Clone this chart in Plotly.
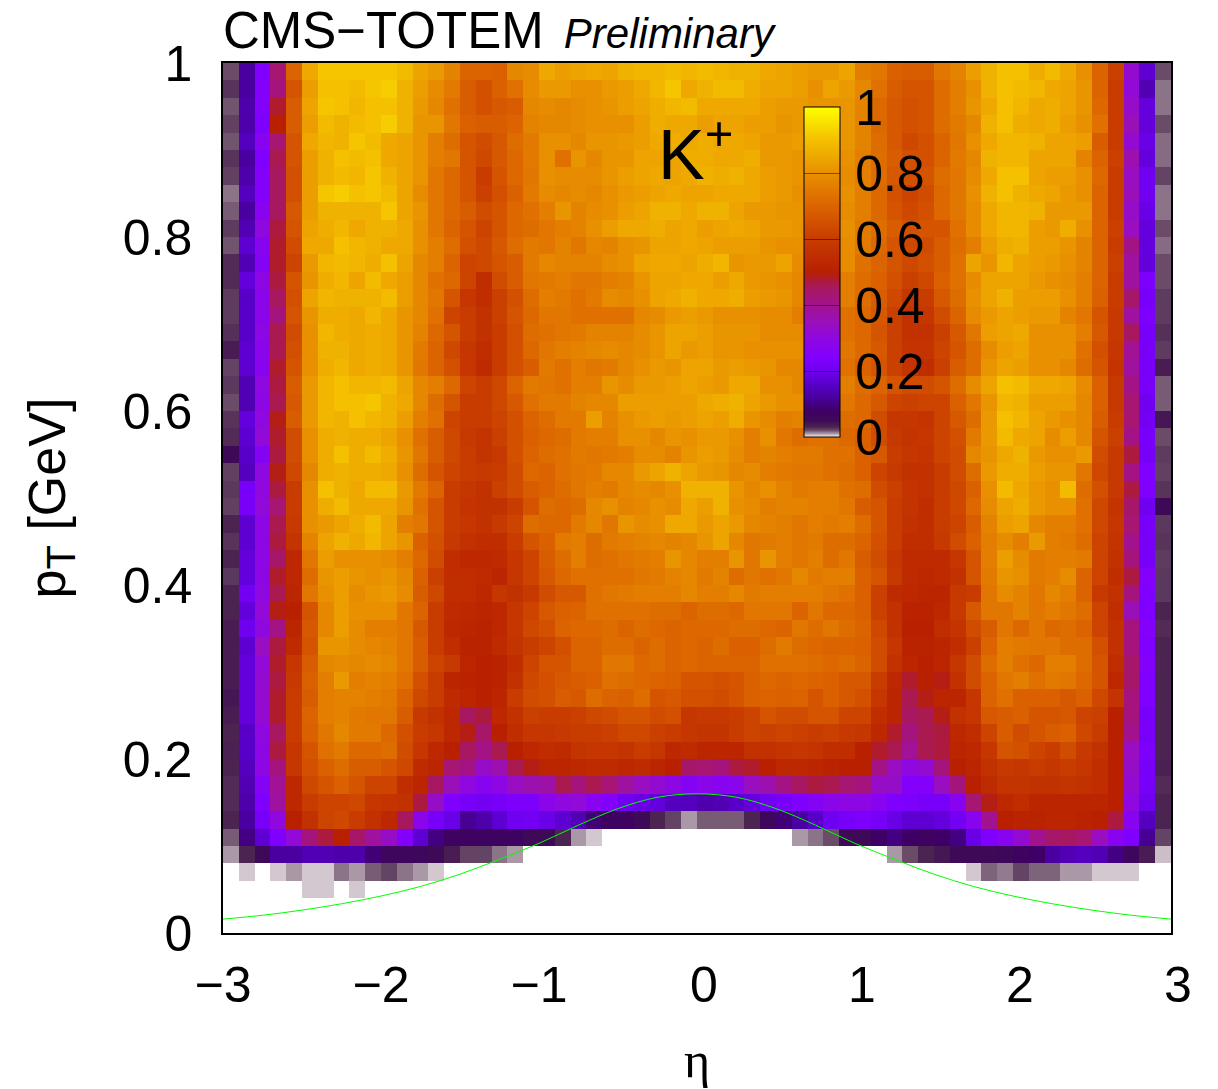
import plotly.graph_objects as go

eta_edges_start = -3.0
eta_bin_width = 0.1
pt_bin_width = 0.02
x_ticks = [-3, -2, -1, 0, 1, 2, 3]
x_tick_labels = ["−3", "−2", "−1", "\u00a00", "\u00a01", "\u00a02", "\u00a03"]
y_ticks = [0, 0.2, 0.4, 0.6, 0.8, 1]
y_tick_labels = ["0", "0.2", "0.4", "0.6", "0.8", "1"]
bar_tick_labels = ["\u200a0", "\u200a0.2", "\u200a0.4", "\u200a0.6", "\u200a0.8", "\u200a1"]

# acceptance in percent, one list per pT bin (bottom to top), 60 eta bins each
row_00 = [0]*60
row_01 = [0]*60
row_02 = [0]*5+[.5,.5,0,.5]+[0]*51
row_03 = [0,.5,0,.5,1,.5,.5,1.5,1,1.8,2.2,1.5,1,.5]+[0]*33+[.5,1.7,1.4,2.2,1.7,1.7,1,1,.5,.5,.5,0,0]
row_04 = [1,3,5,12,12,14,14,13,13,9,6,6,6,5,3.5,2.2,2.2,1.5,1]+[0]*23+[1,2,3,4,5,5,5,5.5,7,8,12,14,15,14,10,6,3.5,.6]
row_05 = [1.8,10,17,24,31,42,47,50,44,38,33,25,17,10,7,7,7,7,7,5,5,3,1,.5]+[0]*12+[1,1.5,2,5,5,8,10,8,7,8,10,19,24,27,32,40,44,45,43,34,27,24,11,2.2]
row_06 = [3,12,22,30,50,56,62,63,60,56,53,45,28,22,19,11,13,17,20,21,19,17,14,9,7,7,5,3,2.2,1,1.8,1.8,1.8,3,6,9,12,16,20,22,23,22,19,17,17,18,21,27,40,50,51,51,52,52,51,50,47,27,15,3]
row_07 = [2.8,13,24,38,53,60,62,62,63,58,57,56,47,33,24,22,21,22,23,23,28,30,31,27,25,20,19,18,15,15,13,14,16,18,20,22,24,26,28,29,29,27,24,23,22,22,27,43,49,53,55,52,52,52,52,52,50,30,20,3]
row_08 = [2.8,14,26,39,53,63,66,69,66,62,62,55,52,45,35,30,27,29,34,36,37,46,42,46,43,38,34,32,29,26,28,27,28,34,36,41,45,47,46,43,42,33,33,25,25,34,42,50,54,57,57,56,56,57,56,55,50,32,22,2.8]
row_09 = [3,15,29,42,58,65,69,72,68,68,66,63,54,52,43,41,33,36,46,49,52,52,53,54,54,53,54,52,50,44,43,42,47,48,50,53,53,52,51,50,50,41,34,30,32,42,50,52,56,59,58,60,58,60,58,55,50,33,22,3.2]
row_10 = [3.2,16,29,47,58,66,73,75,71,71,72,64,58,53,50,45,41,46,50,53,55,54,57,58,58,57,60,58,53,54,52,52,52,56,56,57,58,57,55,55,50,48,46,39,46,47,52,53,58,66,65,62,60,64,59,56,50,34,23,3]
row_11 = [3,16,30,45,60,69,74,78,75,75,71,65,60,58,53,49,44,50,55,58,58,59,60,60,61,63,63,61,60,58,57,57,60,62,61,62,61,60,61,59,58,53,48,42,46,47,53,55,62,68,64,66,68,69,63,60,50,40,22,3]
row_12 = [3.5,18,32,48,60,70,76,77,75,74,74,68,59,56,53,45,47,53,56,61,60,60,61,63,64,66,66,64,65,58,59,59,60,62,66,64,64,66,66,62,62,55,52,45,46,49,56,58,67,68,69,66,66,67,62,61,50,42,22,3]
row_13 = [4,18,32,48,60,68,76,77,77,76,75,70,63,60,54,52,50,52,60,64,65,68,67,72,70,69,72,66,67,65,65,64,66,69,70,69,70,66,69,67,65,58,52,46,49,52,52,58,70,73,69,69,69,67,69,63,57,42,24,3]
row_14 = [3.5,18,32,47,59,69,76,82,76,77,76,73,65,60,52,51,50,51,56,63,65,67,68,69,73,72,71,70,69,66,66,65,66,69,71,70,71,70,69,67,67,60,53,48,50,49,56,64,70,74,76,73,75,74,71,66,53,44,24,3]
row_15 = [3.5,18,31,48,58,68,78,79,78,79,78,74,68,62,59,52,50,51,55,62,66,66,70,70,74,74,71,72,70,71,70,70,70,70,73,73,73,72,71,72,70,64,56,52,50,52,58,64,72,76,73,71,76,76,72,66,55,44,25,3]
row_16 = [3.5,17,34,47,54,66,81,81,79,78,77,74,68,60,55,51,51,54,57,60,62,65,70,70,72,72,70,72,70,71,70,72,69,69,72,75,72,71,70,70,69,64,58,51,51,52,55,61,70,76,75,74,74,72,72,65,56,42,24,3]
row_17 = [3.5,20,30,41,52,67,78,83,79,76,76,74,67,60,53,52,51,53,58,63,65,70,71,71,72,70,72,71,70,71,71,71,72,72,71,70,74,72,74,72,70,63,56,50,50,55,57,64,68,74,71,74,71,72,70,62,56,42,25,2.8]
row_18 = [3,18,31,49,50,66,78,83,80,80,80,74,70,60,54,53,52,53,58,62,67,69,70,73,73,73,73,72,72,70,72,72,71,74,74,74,70,74,71,71,69,61,56,51,51,53,59,67,74,74,77,74,76,74,72,62,55,35,24,3]
row_19 = [3,21,30,46,52,74,80,83,79,81,82,79,68,63,55,55,53,58,56,59,64,67,67,73,74,75,76,76,76,78,76,76,78,75,76,76,76,76,74,73,69,61,54,53,52,52,59,60,74,79,77,74,78,76,70,59,56,42,24,2.5]
row_20 = [2.5,18,29,48,53,72,81,83,81,80,81,78,69,61,55,55,54,52,58,62,67,71,73,73,73,73,74,75,77,78,75,77,72,74,73,74,78,75,76,76,69,66,59,54,53,54,56,66,75,81,80,75,76,79,70,62,55,47,25,2.5]
row_21 = [3,18,29,44,53,74,83,80,80,80,79,76,71,64,55,53,53,54,58,62,68,72,76,72,73,74,75,76,81,78,76,76,81,74,81,76,74,76,72,74,68,64,58,54,54,54,58,66,76,83,79,75,76,76,75,62,56,42,22,2.4]
row_22 = [2.6,17,29,47,57,77,84,87,85,88,84,81,69,65,59,56,55,55,60,66,69,75,76,72,75,76,77,78,77,78,81,84,78,74,75,76,74,75,72,72,70,65,60,55,55,59,64,69,76,79,76,82,76,75,72,62,57,40,22,2.6]
row_23 = [3,17,29,46,59,80,82,84,86,89,84,76,74,66,60,58,56,59,62,72,71,71,75,78,74,81,79,80,85,85,82,84,82,78,77,76,74,76,75,76,72,66,60,56,55,60,62,68,77,83,84,78,76,76,73,63,58,43,22,2.5]
row_24 = [2.3,22,31,43,60,80,86,89,85,85,85,81,73,66,60,57,56,56,60,66,72,71,72,78,80,77,78,80,79,85,83,87,80,79,76,77,77,76,76,74,68,66,60,57,55,60,63,71,79,84,86,82,80,80,73,63,57,44,20,5]
row_25 = [2.5,22,30,47,60,80,90,87,85,89,89,82,75,70,60,58,56,61,64,68,70,72,74,76,75,78,79,78,80,87,87,87,81,78,80,77,75,76,76,73,72,64,61,57,56,60,63,69,80,89,85,82,80,89,72,65,59,47,24,2.6]
row_26 = [2.3,15,30,49,63,78,86,87,86,86,85,80,72,66,62,60,59,60,64,71,70,73,74,75,78,78,82,84,87,84,82,81,78,79,76,75,74,74,73,72,69,62,59,56,56,60,64,72,82,86,86,83,81,81,74,63,59,41,24,2.3]
row_27 = [5,16,26,47,64,80,86,90,86,89,86,81,74,68,63,60,57,59,65,70,72,73,75,74,75,76,79,79,77,81,83,82,79,76,77,76,75,75,73,73,69,67,60,58,57,62,64,78,81,85,87,82,80,80,82,64,59,47,22,2.4]
row_28 = [2.8,17,31,48,64,80,86,87,86,86,84,80,73,68,63,59,57,61,65,69,71,72,75,76,76,80,80,78,81,80,82,82,80,76,80,74,72,73,73,71,69,64,59,57,58,62,65,75,82,89,85,84,79,83,78,66,61,41,22,2]
row_29 = [2.6,18,30,49,68,82,88,87,90,88,87,83,76,73,62,60,60,62,65,70,72,75,75,83,77,80,82,83,82,83,84,83,86,81,79,76,77,74,75,72,71,64,58,58,57,62,67,72,82,90,88,84,82,80,78,68,60,43,21,4]
row_30 = [2,14,29,46,67,82,88,90,90,91,87,85,78,72,66,60,60,63,67,73,75,75,77,78,78,83,83,83,83,83,85,86,87,84,82,80,80,79,75,74,71,67,62,61,62,62,69,74,81,88,87,83,83,83,78,69,59,43,20,1.8]
row_31 = [2.5,14,30,47,68,82,88,90,88,88,89,84,78,76,71,62,60,63,70,75,74,73,76,76,81,79,82,82,83,84,83,82,85,85,80,80,78,76,76,76,72,70,66,64,64,66,72,79,84,90,89,85,85,84,79,69,59,41,22,1.8]
row_32 = [2.2,17,27,48,66,80,86,88,85,86,85,81,74,70,65,58,54,60,65,68,75,73,76,74,75,78,80,82,81,84,84,82,83,82,81,78,78,77,75,73,69,66,61,57,55,61,68,72,81,84,83,80,80,78,72,66,57,38,22,3.5]
row_33 = [3.5,17,28,46,65,80,87,87,85,86,85,81,75,70,63,58,55,60,65,71,74,76,77,78,79,78,79,81,84,82,83,81,81,80,80,80,80,77,76,74,71,67,61,57,57,62,66,72,79,83,84,80,80,80,73,65,58,39,22,2.4]
row_34 = [2.7,16,29,46,64,80,88,86,85,86,85,81,77,71,66,60,56,60,65,72,73,74,75,77,77,77,79,81,84,84,83,81,81,81,79,79,79,77,76,73,71,66,61,56,56,61,67,74,83,84,85,80,80,80,76,67,59,45,22,2.7]
row_35 = [2.4,16,28,42,66,81,86,86,85,88,85,81,78,73,62,60,56,61,66,71,74,74,73,73,73,73,78,79,82,83,82,80,80,80,79,79,76,76,78,73,71,67,61,56,58,64,70,79,82,84,83,82,82,77,74,66,59,38,23,2.4]
row_36 = [2.4,16,28,45,65,84,88,87,87,87,89,83,78,74,66,58,55,61,65,72,76,75,73,75,79,78,80,84,85,87,85,85,86,83,82,81,78,78,78,76,72,68,63,58,60,67,72,80,84,87,83,83,83,80,76,69,60,44,22,2.4]
row_37 = [2.8,18,29,47,66,81,86,88,84,89,85,83,78,73,71,62,55,64,68,74,75,76,74,74,76,77,81,84,84,85,85,83,85,82,81,80,78,77,79,76,72,69,65,61,63,69,73,79,84,84,84,82,80,79,76,70,60,38,23,2]
row_38 = [2.8,14,26,48,62,82,88,89,88,86,90,84,78,76,70,62,63,66,68,75,78,77,77,77,79,80,84,85,85,84,86,88,81,82,82,84,79,78,80,79,73,70,66,63,65,68,73,84,81,88,84,83,82,80,77,70,61,38,18,2]
row_39 = [1.9,17,27,48,64,85,85,90,88,87,85,85,80,76,72,65,63,67,72,75,74,77,74,78,77,80,81,84,84,85,84,83,83,83,81,80,80,79,79,79,75,71,66,63,64,68,72,76,83,86,87,83,83,81,77,70,60,41,18,1.6]
row_40 = [2.4,14,30,47,66,84,86,88,85,87,87,85,80,74,70,66,62,66,71,72,74,76,77,80,83,85,85,86,84,85,83,84,85,84,82,82,81,80,81,80,75,72,68,65,66,66,73,79,85,88,88,83,82,86,80,70,61,34,18,2]
row_41 = [1.8,12,27,45,67,83,87,87,87,87,91,84,81,74,71,68,64,66,71,73,76,81,77,79,80,83,84,87,87,85,87,87,84,82,82,81,81,79,81,79,76,71,66,63,65,71,74,79,85,88,88,87,82,82,82,70,60,33,19,1.5]
row_42 = [1.5,15,25,45,65,83,91,92,90,91,89,84,79,74,71,66,61,65,69,75,79,78,79,78,80,82,83,84,85,84,84,85,85,85,83,82,80,80,80,80,76,71,65,62,64,71,74,80,87,90,87,85,84,82,80,70,60,35,20,1.5]
row_43 = [2.3,13,25,45,65,83,87,89,88,91,87,84,81,74,71,66,60,66,71,74,80,79,79,79,81,83,84,85,84,85,87,86,87,85,83,82,81,81,81,79,76,72,67,65,66,72,74,79,85,90,90,84,83,83,80,71,60,34,20,2.2]
row_44 = [2.6,12,24,46,66,83,87,90,89,90,85,84,81,76,74,66,63,67,71,75,80,73,81,78,81,81,84,84,84,86,86,85,85,86,82,82,81,80,81,80,76,72,68,65,65,70,75,78,87,88,88,84,84,84,77,70,61,36,18,1.6]
row_45 = [1.9,15,27,43,66,85,88,87,91,89,85,84,81,76,72,66,64,67,72,75,80,80,78,81,81,82,83,85,86,85,86,85,85,84,82,82,83,82,83,81,77,72,67,63,65,70,74,80,85,88,88,87,84,84,83,68,60,32,19,1.6]
row_46 = [2.3,13,24,50,68,83,89,87,89,90,92,87,81,81,74,69,68,68,70,77,78,78,79,80,80,80,83,86,85,85,83,84,84,83,83,81,82,80,82,81,77,71,67,65,66,72,75,78,87,90,86,85,86,83,80,73,60,35,18,2]
row_47 = [1.9,13,25,48,68,84,91,90,88,90,90,87,82,78,73,68,65,67,68,78,79,78,79,80,81,83,84,86,88,89,85,85,85,85,83,82,82,81,81,81,77,71,67,65,66,72,76,81,85,90,88,85,86,84,81,71,60,33,18,1.5]
row_48 = [2.6,12,25,42,66,83,90,90,89,91,92,87,83,79,75,68,65,69,73,79,82,82,80,80,82,83,85,88,91,85,87,89,89,86,84,84,83,80,84,82,78,73,68,66,66,72,76,80,87,90,89,88,85,84,81,70,60,31,14,1.5]
row_49 = [2,12,24,43,70,85,91,91,91,91,91,89,84,82,77,70,70,69,78,79,85,83,84,85,84,87,88,88,89,88,89,88,87,87,85,84,83,82,82,84,76,74,69,68,68,74,77,83,87,90,90,86,89,85,80,70,61,32,17,2]

pct_rows = [row_00,row_01,row_02,row_03,row_04,row_05,row_06,row_07,row_08,row_09,
            row_10,row_11,row_12,row_13,row_14,row_15,row_16,row_17,row_18,row_19,
            row_20,row_21,row_22,row_23,row_24,row_25,row_26,row_27,row_28,row_29,
            row_30,row_31,row_32,row_33,row_34,row_35,row_36,row_37,row_38,row_39,
            row_40,row_41,row_42,row_43,row_44,row_45,row_46,row_47,row_48,row_49]
for i, r in enumerate(pct_rows):
    assert len(r) == 60, (i, len(r))

curve_eta = [-3,-2.75,-2.5,-2.25,-2,-1.75,-1.5,-1.25,-1,-0.75,-0.5,-0.25,0,0.25,0.5,0.75,1,1.25,1.5,1.75,2,2.25,2.5,2.75,3]
curve_pt = [.016,.0204,.0263,.0336,.0425,.0535,.0676,.0847,.103,.124,.143,.156,.16,.156,.143,.124,.103,.0847,.0676,.0535,.0425,.0336,.0263,.0204,.016]

colorscale = [
    [0,"#ffffff"],[.005,"#d4c8d0"],[.01,"#ab98a6"],[.015,"#8c7488"],[.02,"#6a4c68"],[.03,"#4c2452"],
    [.05,"#3e0a58"],[.08,"#3e0066"],[.12,"#4a00a0"],[.16,"#5800c8"],[.2,"#7000f0"],[.24,"#8000ff"],
    [.3,"#8f08e0"],[.35,"#9a10b8"],[.4,"#a3128e"],[.45,"#a81860"],[.47,"#ac1a40"],[.5,"#b82000"],[.6,"#c83c00"],
    [.7,"#dc6400"],[.8,"#e89000"],[.9,"#f4c000"],[1,"#ffff00"]]

x_centers = [round(eta_edges_start + eta_bin_width*(i+0.5), 3) for i in range(60)]
y_centers = [round(pt_bin_width*(i+0.5), 3) for i in range(50)]
z = [[v/100 for v in r] for r in pct_rows]

FONT = "Liberation Sans"
fig = go.Figure()
fig.add_trace(go.Heatmap(
    x=x_centers, y=y_centers, z=z, zmin=0, zmax=1, colorscale=colorscale, hoverongaps=False,
    colorbar=dict(x=(804-223)/948, xanchor="left", y=(933-437)/870, yanchor="bottom",
                  len=330/870, lenmode="fraction", thickness=36, thicknessmode="pixels",
                  outlinewidth=1, outlinecolor="black", xpad=0, ypad=0,
                  tickvals=y_ticks, ticktext=bar_tick_labels, ticks="inside", ticklen=36,
                  tickwidth=1, tickcolor="rgba(0,0,0,0.45)",
                  tickfont=dict(family=FONT, size=50, color="black"))))
fig.add_trace(go.Scatter(x=curve_eta, y=curve_pt, mode="lines", showlegend=False,
                         line=dict(color="#00ff00", width=1, shape="spline")))
axis = dict(showgrid=False, zeroline=False, showline=True, mirror=True, linecolor="black",
            linewidth=1.5, ticks="", tickfont=dict(family=FONT, size=50, color="black"))
fig.update_layout(
    width=1218, height=1089, autosize=False, paper_bgcolor="white", plot_bgcolor="white",
    margin=dict(l=223, r=47, t=63, b=156), showlegend=False,
    font=dict(family=FONT, color="black"),
    title=dict(text='CMS−TOTEM\u200a\u200a<span style="font-size:42px"> <i>Preliminary</i></span>',
               font=dict(family=FONT, size=51, color="black"),
               xref="paper", x=0, xanchor="left", yref="container", y=1-30/1089, yanchor="middle"),
    xaxis=dict(axis, range=[-3,3], tickvals=x_ticks, ticktext=x_tick_labels, ticklabelstandoff=7,
               title=dict(text="η", font=dict(family="Liberation Serif", size=50), standoff=30)),
    yaxis=dict(axis, range=[0,1], tickvals=y_ticks, ticktext=y_tick_labels, ticklabelstandoff=19,
               title=dict(text='p<sub><span style="font-size:40px">T</span></sub> [GeV]',
                          font=dict(family=FONT, size=52), standoff=41)),
    annotations=[dict(text="K<sup>+</sup>", xref="paper", yref="paper", x=(656-223)/948, y=(933-150)/870,
                      xanchor="left", yanchor="middle", showarrow=False,
                      font=dict(family=FONT, size=70, color="black"))])
fig.write_html("out.html", config={"displayModeBar": False},
               post_script="document.body.style.margin='0';document.body.style.overflow='hidden';")
